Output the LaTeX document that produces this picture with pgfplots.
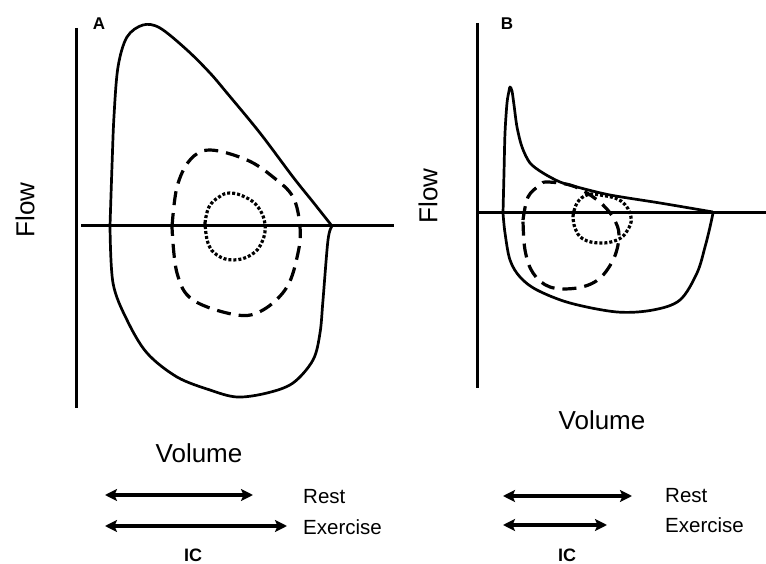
\documentclass[border=0pt]{standalone}
\usepackage{fontspec}
\setmainfont{Liberation Sans}
\usepackage{pgfplots}
\pgfplotsset{compat=1.18}
\usetikzlibrary{arrows.meta}
\tikzset{
  loop/.style={line width=2.7bp, smooth, tension=0.55, line join=round},
  dashloop/.style={line width=3.2bp, smooth, tension=0.6, dash pattern=on 14bp off 8bp},
  dotloop/.style={line width=3.2bp, smooth, tension=0.7, dash pattern=on 3bp off 2bp},
  dbl/.style={line width=3.8bp, {Stealth[length=12bp,width=12bp,inset=2.5bp]}-{Stealth[length=12bp,width=12bp,inset=2.5bp]}},
}
\begin{document}
\begin{tikzpicture}
\useasboundingbox (0,0) rectangle (766bp,564bp);
% ---------------- Panel A ----------------
\begin{axis}[at={(60bp,154bp)}, anchor=south west, scale only axis,
  width=340bp, height=390bp, xmin=-16, xmax=324, ymin=-184, ymax=206,
  hide axis, clip=false]
\addplot[line width=3bp] coordinates {(0,198) (0,-182)};
\addplot[line width=3bp] coordinates {(5,0) (318,0)};
% maximal loop, expiratory (upper) part
\addplot[loop] coordinates {(34,0) (36,60) (38,110) (42,159) (51,189) (67,201) (84,198) (111,176) (134,153) (151,133) (184,93) (217,49) (237,24) (256,0)};
% inspiratory (lower) part
\addplot[loop] coordinates {(34,0) (37,-57) (51,-94) (71,-127) (101,-151) (134,-164) (161,-171) (191,-167) (217,-157) (237,-134) (244,-107) (247,-74) (252,-14) (256,0)};
% exercise tidal loop
\addplot[dashloop] coordinates {(96,-1) (101,39) (114,66) (134,76) (171,66) (197,49) (217,29) (224,-1) (222,-27) (211,-61) (187,-84) (161,-89) (117,-74) (101,-47) (96,-1)};
% rest tidal loop
\addplot[dotloop] coordinates {(129,3) (133,19) (143,29) (154,33) (169,29) (182,19) (189,2) (186,-16) (175,-29) (157,-34) (141,-29) (132,-17) (129,3)};
% IC arrows
\addplot[dbl] coordinates {(29,-269) (177,-269)};
\addplot[dbl] coordinates {(29,-300) (211,-300)};
\end{axis}
% ---------------- Panel B ----------------
\begin{axis}[at={(460bp,169bp)}, anchor=south west, scale only axis,
  width=306bp, height=380bp, xmin=-17, xmax=289, ymin=-182, ymax=198,
  hide axis, clip=false]
\addplot[line width=3bp] coordinates {(0,190) (0,-175)};
\addplot[line width=3bp] coordinates {(2,0) (289,0)};
\addplot[loop, tension=0.5] coordinates {(26,0) (27,40) (28,80) (30,110) (32,122) (33,126) (35,122) (37,108) (40,86) (45,66) (53,50) (66,40) (83,31) (100,26) (133,18) (183,10) (236,1)};
\addplot[loop] coordinates {(26,0) (28,-20) (33,-47) (43,-64) (60,-77) (93,-90) (140,-99) (176,-97) (203,-87) (220,-60) (228,-34) (233,-14) (236,0)};
\addplot[dashloop] coordinates {(46,-7) (51,16) (63,28) (70,31) (93,28) (110,20) (126,8) (137,-6) (142,-22) (137,-45) (122,-66) (100,-75) (73,-74) (56,-60) (48,-37) (46,-7)};
\addplot[dotloop] coordinates {(96,-3) (100,10) (110,18) (123,18) (144,12) (154,-4) (150,-18) (140,-27) (123,-30) (106,-26) (98,-15) (96,-3)};
\addplot[dbl] coordinates {(26,-283) (155,-283)};
\addplot[dbl] coordinates {(26,-312) (130,-312)};
\end{axis}
% ---------------- Text ----------------
\node[font=\fontsize{17bp}{20bp}\selectfont\bfseries] at (99bp,540bp) {A};
\node[font=\fontsize{17bp}{20bp}\selectfont\bfseries] at (507bp,540bp) {B};
\node[font=\fontsize{26bp}{30bp}\selectfont, rotate=90, inner sep=0] at (25bp,354bp) {Flow};
\node[font=\fontsize{26bp}{30bp}\selectfont, rotate=90, inner sep=0] at (428bp,368bp) {Flow};
\node[font=\fontsize{26bp}{30bp}\selectfont, inner sep=0] at (199bp,111bp) {Volume};
\node[font=\fontsize{26bp}{30bp}\selectfont, inner sep=0] at (602bp,144bp) {Volume};
\node[font=\fontsize{20.5bp}{24bp}\selectfont, anchor=west, inner sep=0] at (303bp,67bp) {Rest};
\node[font=\fontsize{20.5bp}{24bp}\selectfont, anchor=west, inner sep=0] at (303bp,37bp) {Exercise};
\node[font=\fontsize{20.5bp}{24bp}\selectfont, anchor=west, inner sep=0] at (665bp,68bp) {Rest};
\node[font=\fontsize{20.5bp}{24bp}\selectfont, anchor=west, inner sep=0] at (665bp,39bp) {Exercise};
\node[font=\fontsize{18bp}{21bp}\selectfont\bfseries, inner sep=0] at (193bp,9bp) {IC};
\node[font=\fontsize{18bp}{21bp}\selectfont\bfseries, inner sep=0] at (567bp,9bp) {IC};
\end{tikzpicture}
\end{document}
